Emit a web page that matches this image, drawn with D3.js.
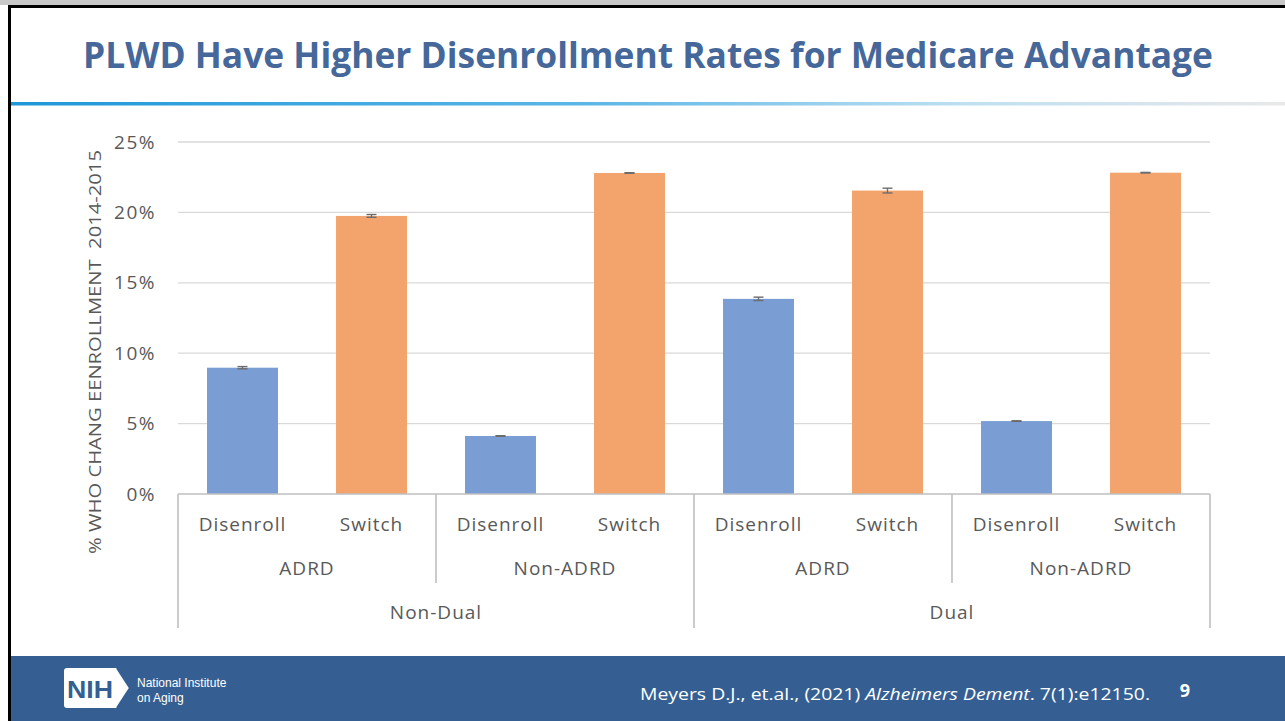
<!DOCTYPE html>
<html><head><meta charset="utf-8">
<script src="https://cdn.jsdelivr.net/npm/d3@7/dist/d3.min.js"></script>
<style>html,body{margin:0;padding:0;background:#fff;overflow:hidden}svg{display:block}</style>
</head><body>
<svg id="c" width="1285" height="721"></svg>
<script>
const categories = ["Disenroll","Switch","Disenroll","Switch","Disenroll","Switch","Disenroll","Switch"];
const adrdGroups = ["ADRD","Non-ADRD","ADRD","Non-ADRD"];
const dualGroups = ["Non-Dual","Dual"];
const values = [0.0897, 0.1975, 0.0412, 0.2280, 0.1386, 0.2155, 0.0518, 0.2282];
const errors = [0.0008, 0.0010, 0.0002, 0.0002, 0.0012, 0.0017, 0.0002, 0.0002];
const yTicks = [0, 0.05, 0.10, 0.15, 0.20, 0.25];
const colors = {Disenroll:"#7a9dd4", Switch:"#f3a46d"};

const svg = d3.select("#c");
const W = 1285, H = 721;

// slide frame
svg.append("rect").attr("x",0).attr("y",0).attr("width",W).attr("height",5).attr("fill","#c8c8c8");
svg.append("rect").attr("x",8).attr("y",5).attr("width",W-8).attr("height",3).attr("fill","#000");
svg.append("rect").attr("x",8).attr("y",5).attr("width",3).attr("height",H-5).attr("fill","#000");

// gradient line
const defs = svg.append("defs");
const g1 = defs.append("linearGradient").attr("id","gl").attr("x1","0").attr("x2","1");
g1.append("stop").attr("offset","0").attr("stop-color","#1e97d8");
g1.append("stop").attr("offset","0.45").attr("stop-color","#5bb6e6");
g1.append("stop").attr("offset","0.75").attr("stop-color","#bfe0f1");
g1.append("stop").attr("offset","1").attr("stop-color","#e8e8e8");
svg.append("rect").attr("x",11).attr("y",102).attr("width",W-11).attr("height",3.5).attr("fill","url(#gl)");

// title
svg.append("text").attr("x",648).attr("y",68).attr("text-anchor","middle")
  .attr("font-family","'Open Sans', sans-serif").attr("font-weight","bold").attr("font-size",36)
  .attr("fill","#45679a").attr("textLength",1130).attr("lengthAdjust","spacingAndGlyphs")
  .text("PLWD Have Higher Disenrollment Rates for Medicare Advantage");

// chart
const x0 = 178, x1 = 1210;
const x = d3.scaleBand().domain(d3.range(categories.length)).range([x0,x1]).paddingInner(0.45).paddingOuter(0.225);
const y = d3.scaleLinear().domain([0,0.25]).range([494,142]);

const grid = svg.append("g");
grid.selectAll("line").data(yTicks.slice(1)).join("line")
  .attr("x1",x0).attr("x2",x1).attr("y1",d=>y(d)).attr("y2",d=>y(d))
  .attr("stroke","#d9d9d9").attr("stroke-width",1.3);

const yAxis = svg.append("g").attr("transform",`translate(${x0-22},0)`)
  .call(d3.axisLeft(y).tickValues(yTicks).tickFormat(d3.format(".0%")).tickSize(0).tickPadding(0));
yAxis.select(".domain").remove();
yAxis.selectAll("text").attr("font-family","'Open Sans', sans-serif").attr("font-size",19).attr("fill","#595959")
  .attr("letter-spacing","1.5px");

svg.append("text").attr("transform","translate(101,352) rotate(-90)").attr("text-anchor","middle")
  .attr("font-family","'Open Sans', sans-serif").attr("font-size",17).attr("fill","#595959")
  .attr("textLength",404).attr("lengthAdjust","spacingAndGlyphs")
  .attr("xml:space","preserve")
  .text("% WHO CHANG EENROLLMENT  2014-2015");

// bars
svg.append("g").selectAll("rect").data(values).join("rect")
  .attr("x",(d,i)=>x(i)).attr("width",x.bandwidth())
  .attr("y",d=>y(d)).attr("height",d=>y(0)-y(d))
  .attr("fill",(d,i)=>colors[categories[i]]);

// error bars
const eb = svg.append("g").attr("stroke","#6d6d6d").attr("stroke-width",1.4);
values.forEach((v,i)=>{
  const cx = x(i)+x.bandwidth()/2;
  const e = errors[i];
  eb.append("line").attr("x1",cx).attr("x2",cx).attr("y1",y(v+e)).attr("y2",y(v-e));
  eb.append("line").attr("x1",cx-5).attr("x2",cx+5).attr("y1",y(v+e)).attr("y2",y(v+e));
  eb.append("line").attr("x1",cx-5).attr("x2",cx+5).attr("y1",y(v-e)).attr("y2",y(v-e));
});

// category axis
const axc = "#bfbfbf";
const ax = svg.append("g").attr("stroke",axc).attr("stroke-width",1.6);
ax.append("line").attr("x1",x0).attr("x2",x1).attr("y1",y(0)).attr("y2",y(0));
const bw = (x1-x0)/categories.length;
[0,4,8].forEach(k=>ax.append("line").attr("x1",x0+k*bw).attr("x2",x0+k*bw).attr("y1",y(0)).attr("y2",628));
[2,6].forEach(k=>ax.append("line").attr("x1",x0+k*bw).attr("x2",x0+k*bw).attr("y1",y(0)).attr("y2",583));

const lab = svg.append("g").attr("font-family","'Open Sans', sans-serif").attr("font-size",19).attr("fill","#595959")
  .attr("text-anchor","middle").attr("letter-spacing","1px");
categories.forEach((c,i)=>{
  lab.append("text").attr("x",x(i)+x.bandwidth()/2).attr("y",531).text(c);
});
adrdGroups.forEach((c,i)=>{
  lab.append("text").attr("x",x0+(i*2+1)*bw).attr("y",575).text(c);
});
dualGroups.forEach((c,i)=>{
  lab.append("text").attr("x",x0+(i*4+2)*bw).attr("y",619).text(c);
});

// footer
svg.append("rect").attr("x",11).attr("y",656).attr("width",W-11).attr("height",H-656).attr("fill","#355f92");
// NIH logo
const logo = svg.append("g");
logo.append("path").attr("d","M67,668 h50 l13,20 l-13,20 h-50 a3,3 0 0 1 -3,-3 v-34 a3,3 0 0 1 3,-3 z").attr("fill","#fff");
logo.append("path").attr("d","M117,668 l13,20 l-13,20").attr("fill","none").attr("stroke","#355f92").attr("stroke-width",2.2);
logo.append("text").attr("x",90).attr("y",698).attr("text-anchor","middle").attr("font-family","'Liberation Sans', Arial, sans-serif")
  .attr("font-weight","bold").attr("font-size",24).attr("fill","#355f92").attr("textLength",46).attr("lengthAdjust","spacingAndGlyphs").text("NIH");
logo.append("text").attr("x",137).attr("y",687).attr("font-family","'Liberation Sans', Arial, sans-serif").attr("font-size",12).attr("fill","#fff").text("National Institute");
logo.append("text").attr("x",137).attr("y",702).attr("font-family","'Liberation Sans', Arial, sans-serif").attr("font-size",12).attr("fill","#fff").text("on Aging");

const cit = svg.append("text").attr("x",640).attr("y",700).attr("font-family","'Open Sans', sans-serif").attr("font-size",17).attr("fill","#fff")
  .attr("textLength",510).attr("lengthAdjust","spacingAndGlyphs");
cit.append("tspan").text("Meyers D.J., et.al., (2021) ");
cit.append("tspan").attr("font-style","italic").text("Alzheimers Dement");
cit.append("tspan").text(". 7(1):e12150.");
svg.append("text").attr("x",1185).attr("y",697).attr("text-anchor","middle").attr("font-family","'Open Sans', sans-serif")
  .attr("font-weight","bold").attr("font-size",18).attr("fill","#fff").text("9");
</script>
</body></html>
